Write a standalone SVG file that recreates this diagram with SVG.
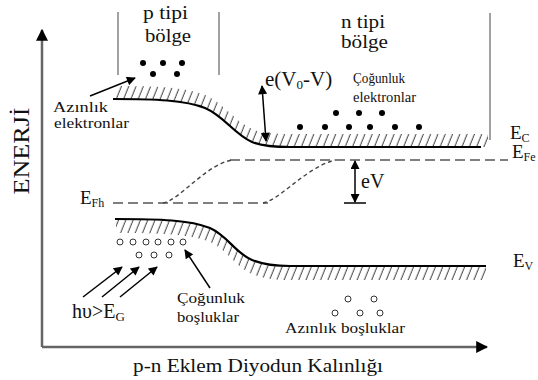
<svg xmlns="http://www.w3.org/2000/svg" width="538" height="380" viewBox="0 0 538 380" font-family="'Liberation Serif', 'Times New Roman', 'DejaVu Serif', serif">
<style>
text{font-family:'Liberation Serif','Times New Roman','DejaVu Serif',serif;fill:#111}
.ax{stroke:#666;stroke-width:2.5;fill:none}
.thin{stroke:#444;stroke-width:1;fill:none}
.band{stroke:#000;stroke-width:2.2;fill:none}
.arr{stroke:#000;stroke-width:1.5;fill:none}
.ld{stroke:#555;stroke-width:1.6;fill:none;stroke-dasharray:10,5}
.sd{stroke:#444;stroke-width:1.4;fill:none;stroke-dasharray:4,3}
.dot{fill:#000}
.hole{fill:none;stroke:#333;stroke-width:1}
</style>
<defs>
<marker id="ah" viewBox="0 0 10 10" refX="9" refY="5" markerWidth="11" markerHeight="9" markerUnits="userSpaceOnUse" orient="auto-start-reverse"><path d="M0,0 L10,5 L0,10 z" fill="#000"/></marker>
<marker id="ahg" viewBox="0 0 10 10" refX="9" refY="5" markerWidth="12" markerHeight="12" markerUnits="userSpaceOnUse" orient="auto"><path d="M0,0 L10,5 L0,10 z" fill="#000"/></marker>
<pattern id="hatch" patternUnits="userSpaceOnUse" width="7.3" height="20" patternTransform="skewX(-22)"><line x1="3" y1="-2" x2="3" y2="22" stroke="#333" stroke-width="1"/></pattern>
</defs>

<g id="axes">
<line class="ax" x1="42" y1="347" x2="42" y2="30" marker-end="url(#ahg)"/>
<line class="ax" x1="42" y1="347" x2="487" y2="347" marker-end="url(#ahg)"/>
<text transform="translate(29,151) rotate(-90)" text-anchor="middle" font-size="23" textLength="87" lengthAdjust="spacingAndGlyphs">ENERJİ</text>
<text x="133" y="372" font-size="18" textLength="250" lengthAdjust="spacingAndGlyphs">p-n Eklem Diyodun Kalınlığı</text>
</g>

<g id="p-region">
<line class="thin" x1="118" y1="12" x2="118" y2="75"/>
<line class="thin" x1="219" y1="12" x2="219" y2="75"/>
<text x="143" y="19" font-size="19" textLength="45" lengthAdjust="spacingAndGlyphs">p tipi</text>
<text x="145" y="42" font-size="19" textLength="46" lengthAdjust="spacingAndGlyphs">bölge</text>
</g>

<g id="n-region">
<line class="thin" x1="490" y1="13" x2="490" y2="140"/>
<text x="341" y="28" font-size="19" textLength="44" lengthAdjust="spacingAndGlyphs">n tipi</text>
<text x="341" y="48" font-size="19" textLength="47" lengthAdjust="spacingAndGlyphs">bölge</text>
</g>

<g id="conduction-band">
<path d="M116,99 C155,99 185,100 205,108 C224,116 234,134 252,142 C262,146 272,147 290,147 L488,147 L488,134 L290,134 C272,134 262,133 252,129 C234,121 224,103 205,95 C185,87 155,86 116,86 Z" fill="url(#hatch)"/>
<path class="band" d="M113,99 C155,99 185,100 205,108 C224,116 234,134 252,142 C262,146 272,147 290,147 L481,147"/>
<text x="510" y="139" font-size="19">E<tspan font-size="12" dy="3">C</tspan></text>
</g>

<g id="valence-band">
<path d="M116,219 C160,219 190,220 210,228 C228,236 235,253 252,260 C262,264 272,266 290,266 L486,266 L486,280 L290,280 C272,280 262,278 252,274 C235,267 228,250 210,242 C190,234 160,233 116,233 Z" fill="url(#hatch)"/>
<path class="band" d="M115,219 C160,219 190,220 210,228 C228,236 235,253 252,260 C262,264 272,266 290,266 L486,266"/>
<text x="513" y="267" font-size="19">E<tspan font-size="12" dy="3">V</tspan></text>
</g>

<g id="fermi-levels">
<path class="ld" d="M230,160 L508,160"/>
<path class="ld" d="M113,203 L268,203"/>
<path class="sd" d="M163,203 C180,200 205,165 232,160"/>
<path class="sd" d="M263,203 C280,200 305,168 335,160"/>
<text x="512" y="158" font-size="19">E<tspan font-size="12" dy="3">Fe</tspan></text>
<text x="80" y="204" font-size="19">E<tspan font-size="12" dy="3">Fh</tspan></text>
</g>

<g id="electrons-p">
<circle class="dot" cx="143" cy="63" r="3"/>
<circle class="dot" cx="163" cy="63" r="3"/>
<circle class="dot" cx="182" cy="63" r="3"/>
<circle class="dot" cx="153" cy="74" r="3"/>
<circle class="dot" cx="177" cy="74" r="3"/>
<text x="53" y="112" font-size="15" textLength="55" lengthAdjust="spacingAndGlyphs">Azınlık</text>
<text x="54" y="128" font-size="15" textLength="75" lengthAdjust="spacingAndGlyphs">elektronlar</text>
</g>

<g id="electrons-n">
<circle class="dot" cx="336" cy="113" r="3"/>
<circle class="dot" cx="359" cy="113" r="3"/>
<circle class="dot" cx="382" cy="113" r="3"/>
<circle class="dot" cx="300" cy="127" r="3"/>
<circle class="dot" cx="325" cy="127" r="3"/>
<circle class="dot" cx="349" cy="127" r="3"/>
<circle class="dot" cx="370" cy="127" r="3"/>
<circle class="dot" cx="395" cy="127" r="3"/>
<circle class="dot" cx="419" cy="127" r="3"/>
<text x="353" y="83" font-size="15" textLength="52" lengthAdjust="spacingAndGlyphs">Çoğunluk</text>
<text x="353" y="102" font-size="15" textLength="63" lengthAdjust="spacingAndGlyphs">elektronlar</text>
</g>

<g id="holes-p">
<circle class="hole" cx="120" cy="242" r="3"/>
<circle class="hole" cx="133" cy="242" r="3"/>
<circle class="hole" cx="146" cy="242" r="3"/>
<circle class="hole" cx="158" cy="242" r="3"/>
<circle class="hole" cx="171" cy="242" r="3"/>
<circle class="hole" cx="183" cy="242" r="3"/>
<circle class="hole" cx="139" cy="255" r="3"/>
<circle class="hole" cx="154" cy="255" r="3"/>
<circle class="hole" cx="169" cy="255" r="3"/>
<text x="177" y="303" font-size="15" textLength="68" lengthAdjust="spacingAndGlyphs">Çoğunluk</text>
<text x="177" y="322" font-size="15" textLength="62" lengthAdjust="spacingAndGlyphs">boşluklar</text>
</g>

<g id="holes-n">
<circle class="hole" cx="348" cy="299" r="3"/>
<circle class="hole" cx="374" cy="299" r="3"/>
<circle class="hole" cx="335" cy="313" r="3"/>
<circle class="hole" cx="360" cy="313" r="3"/>
<circle class="hole" cx="380" cy="313" r="3"/>
<text x="285" y="333" font-size="14" textLength="120" lengthAdjust="spacingAndGlyphs">Azınlık boşluklar</text>
</g>

<g id="photon">
<text x="72" y="318" font-size="20">hυ&gt;E<tspan font-size="13" dy="3">G</tspan></text>
</g>

<g id="labels">
<text x="265" y="86" font-size="21">e(V<tspan font-size="13" dy="3">0</tspan><tspan dy="-3">-V)</tspan></text>
<text x="361" y="188" font-size="20">eV</text>
</g>

<g id="connectors">
<line class="arr" x1="90" y1="96" x2="135" y2="78" marker-end="url(#ah)"/>
<line class="arr" x1="262" y1="86" x2="266" y2="141" marker-start="url(#ah)" marker-end="url(#ah)"/>
<line class="arr" x1="355" y1="161" x2="355" y2="202" marker-start="url(#ah)" marker-end="url(#ah)"/>
<line class="arr" x1="344" y1="203" x2="366" y2="203"/>
<line class="arr" x1="210" y1="288" x2="185" y2="250" marker-end="url(#ah)"/>
<line class="arr" x1="83" y1="297" x2="122" y2="267" marker-end="url(#ah)"/>
<line class="arr" x1="102" y1="297" x2="139" y2="267" marker-end="url(#ah)"/>
<line class="arr" x1="120" y1="297" x2="157" y2="267" marker-end="url(#ah)"/>
</g>
</svg>
